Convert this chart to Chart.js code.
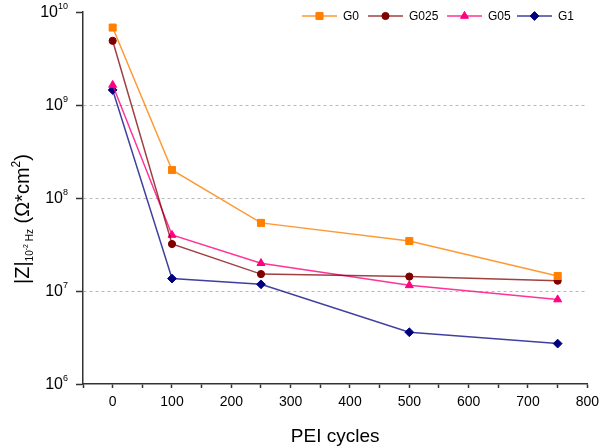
<!DOCTYPE html>
<html>
<head>
<meta charset="utf-8">
<script src="https://cdn.jsdelivr.net/npm/chart.js@4/dist/chart.umd.min.js"></script>
<style>
html, body { margin: 0; padding: 0; background: #fff; }
#chart-wrap { width: 605px; height: 448px; position: relative; }
</style>
</head>
<body>
<div id="chart-wrap"><canvas id="impedance-chart"></canvas></div>
<script>
// PEI cycles on x, |Z| at 0.01 Hz on y (log)
var cycles = [0, 100, 250, 500, 750];
var seriesNames = ['G0', 'G025', 'G05', 'G1'];
var g0Values = [6.8e9, 2.0e8, 5.4e7, 3.45e7, 1.45e7];
var g025Values = [4.9e9, 3.2e7, 1.52e7, 1.43e7, 1.29e7];
var g05Values = [1.64e9, 4.0e7, 1.99e7, 1.15e7, 8.1e6];
var g1Values = [1.45e9, 1.36e7, 1.18e7, 3.6e6, 2.72e6];
var yTickValues = [1e6, 1e7, 1e8, 1e9, 1e10];
var yTickExponents = ['6', '7', '8', '9', '10'];
var xTitle = 'PEI cycles';

var FONT = '"Liberation Sans", Arial, sans-serif';
var AXIS_COLOR = '#333333';

function toPoints(vals) {
    return vals.map(function(v, i) { return {x: cycles[i], y: v}; });
}

function makeDataset(label, vals, lineColor, pointColor, style, radius) {
    return {
        label: label,
        data: toPoints(vals),
        borderColor: lineColor,
        borderWidth: 1.5,
        pointStyle: style,
        pointRadius: radius,
        pointHoverRadius: radius,
        pointBackgroundColor: pointColor,
        pointBorderColor: pointColor,
        pointBorderWidth: 1,
        fill: false,
        tension: 0
    };
}

var datasets = [
    makeDataset(seriesNames[0], g0Values, 'rgba(255,128,0,0.8)', '#ff8000', 'rect', 5),
    makeDataset(seriesNames[1], g025Values, 'rgba(128,0,0,0.75)', '#800000', 'circle', 3.6),
    makeDataset(seriesNames[2], g05Values, 'rgba(255,0,128,0.8)', '#ff0080', 'triangle', 4.6),
    makeDataset(seriesNames[3], g1Values, 'rgba(0,0,128,0.75)', '#000080', 'rectRot', 4.4)
];

// legend with line + marker, like the original
var legendPlugin = {
    id: 'lineLegend',
    afterDraw: function(chart) {
        var ctx = chart.ctx;
        var lineStarts = [302, 368, 447, 517];
        var y = 16;
        ctx.save();
        chart.data.datasets.forEach(function(ds, i) {
            var x0 = lineStarts[i];
            ctx.strokeStyle = ds.borderColor;
            ctx.lineWidth = 1.5;
            ctx.beginPath();
            ctx.moveTo(x0, y);
            ctx.lineTo(x0 + 35, y);
            ctx.stroke();
            ctx.fillStyle = ds.pointBackgroundColor;
            ctx.strokeStyle = ds.pointBorderColor;
            ctx.lineWidth = 1;
            Chart.helpers.drawPoint(ctx, {pointStyle: ds.pointStyle, radius: ds.pointRadius, rotation: 0, borderWidth: 1}, x0 + 17.5, y);
            ctx.fillStyle = '#000';
            ctx.font = '12px ' + FONT;
            ctx.textBaseline = 'middle';
            ctx.textAlign = 'left';
            ctx.fillText(ds.label, x0 + 41, y + 1);
        });
        ctx.restore();
    }
};

// 10^n tick labels and the |Z| axis title with sub/superscripts
var labelPlugin = {
    id: 'powerLabels',
    afterDraw: function(chart) {
        var ctx = chart.ctx;
        var yScale = chart.scales.y;
        ctx.save();
        ctx.fillStyle = '#000';
        ctx.textBaseline = 'middle';
        yTickValues.forEach(function(v, i) {
            var py = yScale.getPixelForValue(v);
            ctx.font = '9px ' + FONT;
            var expW = ctx.measureText(yTickExponents[i]).width;
            var right = 68;
            ctx.textAlign = 'left';
            ctx.fillText(yTickExponents[i], right - expW, py - 5);
            ctx.font = '16px ' + FONT;
            ctx.textAlign = 'right';
            ctx.fillText('10', right - expW, py + 1);
        });

        ctx.translate(29, 284);
        ctx.rotate(-Math.PI / 2);
        ctx.textBaseline = 'alphabetic';
        ctx.textAlign = 'left';
        var parts = [
            {t: '|Z|', size: 20, dy: 0},
            {t: '10', size: 10, dy: 4},
            {t: '-2', size: 7, dy: -1},
            {t: ' Hz', size: 10, dy: 4},
            {t: ' (\u03A9*cm', size: 20, dy: 0},
            {t: '2', size: 12, dy: -9},
            {t: ')', size: 20, dy: 0}
        ];
        var x = 0;
        parts.forEach(function(p) {
            ctx.font = p.size + 'px ' + FONT;
            ctx.fillText(p.t, x, p.dy);
            x += ctx.measureText(p.t).width;
        });
        ctx.restore();
    }
};

var ctx = document.getElementById('impedance-chart');
var chart = new Chart(ctx, {
    type: 'line',
    data: {datasets: datasets},
    plugins: [legendPlugin, labelPlugin],
    options: {
        responsive: true,
        maintainAspectRatio: false,
        animation: false,
        layout: {padding: {top: 12, right: 16, left: 0, bottom: 0}},
        plugins: {
            legend: {display: false},
            tooltip: {enabled: false}
        },
        scales: {
            x: {
                type: 'linear',
                min: -50,
                max: 800,
                afterBuildTicks: function(scale) {
                    var t = [];
                    for (var v = -50; v <= 800; v += 50) { t.push({value: v}); }
                    scale.ticks = t;
                },
                afterFit: function(scale) { scale.height = 64; },
                ticks: {
                    color: '#000',
                    font: {family: FONT, size: 14},
                    padding: 6,
                    maxRotation: 0,
                    autoSkip: false,
                    callback: function(v) { return (v % 100 === 0) ? String(v) : ''; }
                },
                grid: {
                    drawOnChartArea: false,
                    tickLength: 4,
                    tickColor: AXIS_COLOR,
                    tickWidth: 1.5
                },
                border: {color: AXIS_COLOR, width: 1.5},
                title: {
                    display: true,
                    text: xTitle,
                    color: '#000',
                    font: {family: FONT, size: 19},
                    padding: {top: 4, bottom: 0}
                }
            },
            y: {
                type: 'logarithmic',
                min: 1e6,
                max: 1e10,
                afterBuildTicks: function(scale) {
                    scale.ticks = yTickValues.map(function(v) { return {value: v, major: true}; });
                },
                afterFit: function(scale) { scale.width = 83; },
                ticks: {
                    callback: function() { return ''; }
                },
                grid: {
                    color: function(c) {
                        var v = c.tick ? c.tick.value : 0;
                        return (v === 1e6 || v === 1e10) ? 'rgba(0,0,0,0)' : '#b8b8b8';
                    },
                    lineWidth: 1,
                    tickLength: 7,
                    tickColor: AXIS_COLOR,
                    tickWidth: 1.5
                },
                border: {color: AXIS_COLOR, width: 1.5, dash: [3, 3]}
            }
        }
    }
});
</script>
</body>
</html>
